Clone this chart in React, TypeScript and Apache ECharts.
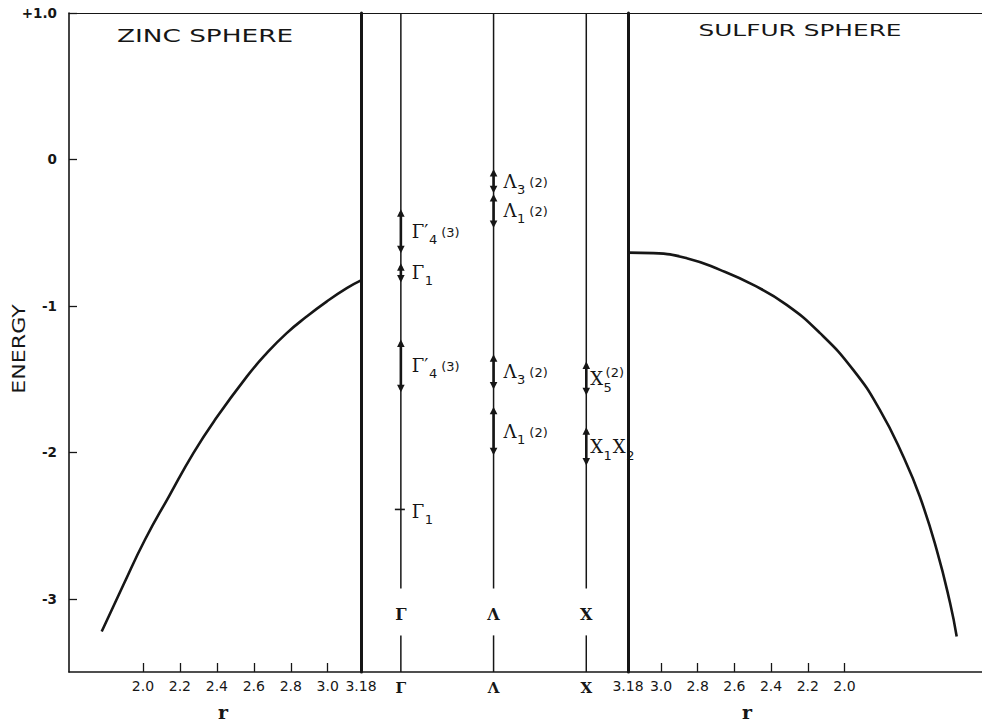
import React, { useEffect, useRef } from "react";
import * as echarts from "echarts";

// ---------------- data ----------------
const energyTickValues = [1, 0, -1, -2, -3];
const energyTickLabels = ["+1.0", "0", "-1", "-2", "-3"];

const zincTickValues = [2.0, 2.2, 2.4, 2.6, 2.8, 3.0, 3.18];
const zincTickLabels = ["2.0", "2.2", "2.4", "2.6", "2.8", "3.0", "3.18"];
const sulfurTickValues = [3.18, 3.0, 2.8, 2.6, 2.4, 2.2, 2.0];
const sulfurTickLabels = ["3.18", "3.0", "2.8", "2.6", "2.4", "2.2", "2.0"];

// zinc sphere potential curve
const zincR = [1.777, 1.892, 2.011, 2.141, 2.273, 2.39, 2.562, 2.67, 2.778, 2.886, 2.994, 3.103, 3.18];
const zincE = [-3.223, -2.911, -2.597, -2.3, -2.005, -1.778, -1.483, -1.323, -1.186, -1.073, -0.971, -0.879, -0.826];

// sulfur sphere potential curve
const sulfurR = [3.18, 3.042, 2.86, 2.678, 2.497, 2.315, 2.133, 1.952, 1.807, 1.679, 1.589, 1.497, 1.424, 1.388];
const sulfurE = [-0.636, -0.64, -0.674, -0.754, -0.857, -0.993, -1.186, -1.437, -1.71, -2.029, -2.302, -2.666, -3.029, -3.257];

// symmetry points
const symmetryPoints = ["Γ", "Λ", "X"];
const symmetryIndex = [0, 1, 2];

// energy levels (bands) at symmetry points
const levelPoint = [0, 0, 0, 0, 1, 1, 1, 1, 2, 2];
const levelUpper = [-0.36, -0.73, -1.25, -2.39, -0.085, -0.256, -1.35, -1.71, -1.4, -1.85];
const levelLower = [-0.62, -0.82, -1.57, -2.39, -0.21, -0.447, -1.55, -2.0, -1.59, -2.07];
const levelIsSingle = [false, false, false, true, false, false, false, false, false, false];
const levelMain = ["Γ′", "Γ", "Γ′", "Γ", "Λ", "Λ", "Λ", "Λ", "X", "X"];
const levelSub = ["4", "1", "4", "1", "3", "1", "3", "1", "5", "1"];
const levelDegeneracy = ["(3)", "", "(3)", "", "(2)", "(2)", "(2)", "(2)", "(2)", ""];
const levelPartner = ["", "", "", "", "", "", "", "", "", "X"];
const levelPartnerSub = ["", "", "", "", "", "", "", "", "", "2"];

// ---------------- styles ----------------
const INK = "#161616";
const E_MIN = -3.5;
const E_MAX = 1.0;
const COLUMN_GAP_TOP = -2.93;
const COLUMN_GAP_BOTTOM = -3.25;
const COLUMN_LABEL_E = -3.11;
const LABEL_DX = [11, 10, 4];
const MAIN_FONT = '18px "DejaVu Serif"';
const SUB_FONT = '13px "DejaVu Sans"';

let measureCtx: CanvasRenderingContext2D | null = null;
function textWidth(s: string, font: string): number {
  if (!measureCtx) measureCtx = document.createElement("canvas").getContext("2d");
  if (!measureCtx) return s.length * 8;
  measureCtx.font = font;
  return measureCtx.measureText(s).width;
}

function txt(text: string, font: string, x: number, y: number) {
  return {
    type: "text",
    style: {
      text,
      x,
      y,
      font,
      fill: INK,
      align: "left",
      verticalAlign: "middle",
      textAlign: "left",
      textVerticalAlign: "middle",
    },
  };
}

function labelFor(i: number, x0: number, yc: number, col: number) {
  const out: any[] = [];
  let cx = x0;
  out.push(txt(levelMain[i], MAIN_FONT, cx, yc));
  cx += textWidth(levelMain[i], MAIN_FONT) + 0.5;
  const isX = col === 2;
  const subDy = isX ? 9 : 8;
  let w = 0;
  if (levelSub[i]) {
    out.push(txt(levelSub[i], SUB_FONT, cx, yc + subDy));
    w = textWidth(levelSub[i], SUB_FONT);
  }
  if (levelDegeneracy[i]) {
    if (isX) {
      out.push(txt(levelDegeneracy[i], SUB_FONT, cx + 2, yc - 6));
    } else {
      out.push(txt(levelDegeneracy[i], SUB_FONT, cx + w + 4, yc + 1));
    }
  }
  if (levelPartner[i]) {
    const px = cx + w + 1;
    out.push(txt(levelPartner[i], MAIN_FONT, px, yc));
    const pw = textWidth(levelPartner[i], MAIN_FONT) + 0.5;
    out.push(txt(levelPartnerSub[i], SUB_FONT, px + pw, yc + subDy));
  }
  return out;
}

function findLabel(values: number[], labels: string[], v: number) {
  const k = values.findIndex((t) => Math.abs(t - v) < 1e-6);
  return k >= 0 ? labels[k] : "";
}

const hiddenAxisParts = {
  axisTick: { show: false },
  axisLabel: { show: false },
  splitLine: { show: false },
};

function centeredText(text: string, font: string, x: number, y: number, extra: any = {}) {
  return {
    type: "text",
    x,
    y,
    ...extra,
    style: {
      text,
      font,
      fill: INK,
      align: "center",
      verticalAlign: "middle",
      textAlign: "center",
      textVerticalAlign: "middle",
    },
  };
}

export default function App() {
  const ref = useRef<HTMLDivElement>(null);

  useEffect(() => {
    document.body.style.margin = "0";
    if (!ref.current) return;
    const chart = echarts.init(ref.current, null, { renderer: "svg" });

    const bottomLabelStyle = {
      color: INK,
      fontFamily: "DejaVu Sans",
      fontSize: 14,
      margin: 7,
    };

    const option: any = {
      animation: false,
      backgroundColor: "#ffffff",
      grid: [
        { left: 69, top: 13, width: 292, height: 659 },
        { left: 361, top: 13, width: 267, height: 659 },
        { left: 628, top: 13, right: 0, height: 659 },
      ],
      xAxis: [
        {
          gridIndex: 0,
          type: "value",
          min: 1.6,
          max: 3.18,
          position: "bottom",
          axisLine: { show: true, onZero: false, lineStyle: { color: INK, width: 1.5 } },
          axisTick: {
            show: true,
            inside: true,
            length: 9,
            customValues: zincTickValues.slice(0, 6),
            lineStyle: { color: INK, width: 1.3 },
          },
          axisLabel: {
            ...bottomLabelStyle,
            customValues: zincTickValues,
            formatter: (v: number) => findLabel(zincTickValues, zincTickLabels, v),
          },
          splitLine: { show: false },
        },
        {
          gridIndex: 1,
          type: "value",
          min: -0.43,
          max: 2.45,
          position: "bottom",
          axisLine: { show: true, onZero: false, lineStyle: { color: INK, width: 1.5 } },
          axisTick: { show: false },
          axisLabel: {
            color: INK,
            fontFamily: "DejaVu Serif",
            fontWeight: "bold",
            fontSize: 15,
            margin: 8,
            customValues: symmetryIndex,
            formatter: (v: number) => symmetryPoints[Math.round(v)] ?? "",
          },
          splitLine: { show: false },
        },
        {
          gridIndex: 2,
          type: "value",
          min: 1.25,
          max: 3.18,
          inverse: true,
          position: "bottom",
          axisLine: { show: true, onZero: false, lineStyle: { color: INK, width: 1.5 } },
          axisTick: {
            show: true,
            inside: true,
            length: 9,
            customValues: sulfurTickValues.slice(1),
            lineStyle: { color: INK, width: 1.3 },
          },
          axisLabel: {
            ...bottomLabelStyle,
            customValues: sulfurTickValues,
            formatter: (v: number) => findLabel(sulfurTickValues, sulfurTickLabels, v),
          },
          splitLine: { show: false },
        },
        // top frame lines
        {
          gridIndex: 0, type: "value", min: 1.6, max: 3.18, position: "top",
          axisLine: { show: true, onZero: false, lineStyle: { color: INK, width: 1 } },
          ...hiddenAxisParts,
        },
        {
          gridIndex: 1, type: "value", min: -0.43, max: 2.45, position: "top",
          axisLine: { show: true, onZero: false, lineStyle: { color: INK, width: 1 } },
          ...hiddenAxisParts,
        },
        {
          gridIndex: 2, type: "value", min: 1.25, max: 3.18, inverse: true, position: "top",
          axisLine: { show: true, onZero: false, lineStyle: { color: INK, width: 1 } },
          ...hiddenAxisParts,
        },
      ],
      yAxis: [
        {
          gridIndex: 0,
          type: "value",
          min: E_MIN,
          max: E_MAX,
          position: "left",
          axisLine: { show: true, onZero: false, lineStyle: { color: INK, width: 1.6 } },
          axisTick: {
            show: true,
            inside: true,
            length: 8,
            customValues: energyTickValues,
            lineStyle: { color: INK, width: 1.3 },
          },
          axisLabel: {
            color: INK,
            fontFamily: "DejaVu Sans",
            fontWeight: "bold",
            fontSize: 13.5,
            margin: 12,
            customValues: energyTickValues,
            formatter: (v: number) => findLabel(energyTickValues, energyTickLabels, v),
          },
          splitLine: { show: false },
        },
        {
          gridIndex: 1, type: "value", min: E_MIN, max: E_MAX, position: "left",
          axisLine: { show: true, onZero: false, lineStyle: { color: INK, width: 3 } },
          ...hiddenAxisParts,
        },
        {
          gridIndex: 1, type: "value", min: E_MIN, max: E_MAX, position: "right",
          axisLine: { show: true, onZero: false, lineStyle: { color: INK, width: 3 } },
          ...hiddenAxisParts,
        },
        {
          gridIndex: 2, type: "value", min: E_MIN, max: E_MAX, position: "left",
          axisLine: { show: false, onZero: false },
          ...hiddenAxisParts,
        },
      ],
      series: [
        {
          name: "Zinc sphere",
          type: "line",
          xAxisIndex: 0,
          yAxisIndex: 0,
          data: zincR.map((r, i) => [r, zincE[i]]),
          smooth: 0.5,
          showSymbol: false,
          symbol: "none",
          lineStyle: { color: INK, width: 2.6 },
          z: 3,
        },
        {
          name: "Sulfur sphere",
          type: "line",
          xAxisIndex: 2,
          yAxisIndex: 3,
          data: sulfurR.map((r, i) => [r, sulfurE[i]]),
          smooth: 0.5,
          showSymbol: false,
          symbol: "none",
          lineStyle: { color: INK, width: 2.6 },
          z: 3,
        },
        {
          name: "Symmetry lines",
          type: "custom",
          xAxisIndex: 1,
          yAxisIndex: 1,
          data: symmetryIndex.map((i) => [i, E_MAX]),
          renderItem: (params: any, api: any) => {
            const c = api.value(0);
            const top = api.coord([c, E_MAX]);
            const ga = api.coord([c, COLUMN_GAP_TOP]);
            const gb = api.coord([c, COLUMN_GAP_BOTTOM]);
            const bot = api.coord([c, E_MIN]);
            const mid = api.coord([c, COLUMN_LABEL_E]);
            return {
              type: "group",
              children: [
                {
                  type: "line",
                  shape: { x1: top[0], y1: top[1], x2: ga[0], y2: ga[1] },
                  style: { stroke: INK, lineWidth: 1.5 },
                },
                {
                  type: "line",
                  shape: { x1: gb[0], y1: gb[1], x2: bot[0], y2: bot[1] },
                  style: { stroke: INK, lineWidth: 1.5 },
                },
                {
                  type: "text",
                  style: {
                    text: symmetryPoints[params.dataIndex],
                    x: mid[0],
                    y: mid[1],
                    font: 'bold 16px "DejaVu Serif"',
                    fill: INK,
                    align: "center",
                    verticalAlign: "middle",
                    textAlign: "center",
                    textVerticalAlign: "middle",
                  },
                },
              ],
            };
          },
          z: 2,
        },
        {
          name: "Levels",
          type: "custom",
          xAxisIndex: 1,
          yAxisIndex: 1,
          data: levelPoint.map((p, i) => [p, levelUpper[i], levelLower[i]]),
          renderItem: (params: any, api: any) => {
            const i = params.dataIndex;
            const col = api.value(0);
            const p1 = api.coord([col, api.value(1)]);
            const p2 = api.coord([col, api.value(2)]);
            const children: any[] = [];
            let yc: number;
            if (levelIsSingle[i]) {
              children.push({
                type: "line",
                shape: { x1: p1[0] - 6, y1: p1[1], x2: p1[0] + 4, y2: p1[1] },
                style: { stroke: INK, lineWidth: 1.6 },
              });
              yc = p1[1] + 2;
            } else {
              const aw = 3.8;
              const ah = 7.5;
              children.push({
                type: "line",
                shape: { x1: p1[0], y1: p1[1], x2: p2[0], y2: p2[1] },
                style: { stroke: INK, lineWidth: 2.6 },
              });
              children.push({
                type: "polygon",
                shape: {
                  points: [
                    [p1[0], p1[1] - 3],
                    [p1[0] - aw, p1[1] - 3 + ah],
                    [p1[0] + aw, p1[1] - 3 + ah],
                  ],
                },
                style: { fill: INK },
              });
              children.push({
                type: "polygon",
                shape: {
                  points: [
                    [p2[0], p2[1] + 3],
                    [p2[0] - aw, p2[1] + 3 - ah],
                    [p2[0] + aw, p2[1] + 3 - ah],
                  ],
                },
                style: { fill: INK },
              });
              yc = (p1[1] + p2[1]) / 2;
            }
            const labelParts = labelFor(i, p1[0] + LABEL_DX[col], yc, col);
            return { type: "group", children: children.concat(labelParts) };
          },
          z: 4,
        },
      ],
      graphic: [
        centeredText("ZINC SPHERE", '17px "DejaVu Sans"', 205, 36, { scaleX: 1.55 }),
        centeredText("SULFUR SPHERE", '16px "DejaVu Sans"', 800, 31, { scaleX: 1.55 }),
        centeredText("ENERGY", '17px "DejaVu Sans"', 19, 349, { rotation: Math.PI / 2, scaleX: 1.3 }),
        centeredText("r", 'bold 19px "DejaVu Serif"', 223, 712),
        centeredText("r", 'bold 19px "DejaVu Serif"', 747, 712),
      ],
    };

    chart.setOption(option);
    return () => chart.dispose();
  }, []);

  return (
    <div
      ref={ref}
      style={{ position: "absolute", left: 0, top: 0, width: 982, height: 722, background: "#fff" }}
    />
  );
}
